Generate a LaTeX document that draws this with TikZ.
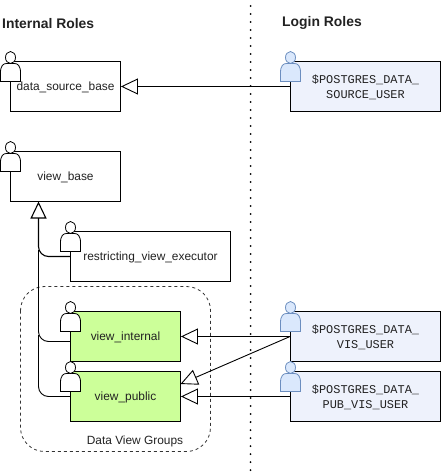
\documentclass[tikz,border=0pt]{standalone}
\usepackage{fontspec}
\setmainfont{Liberation Sans}
\newfontfamily\monof{Liberation Mono}
\usetikzlibrary{arrows.meta}
\definecolor{loginfill}{HTML}{EEF2FC}
\definecolor{viewfill}{HTML}{CCFF99}
\definecolor{actorblue}{HTML}{6C8EBF}
\definecolor{actorfill}{HTML}{DAE8FC}
\definecolor{ink}{HTML}{222222}
\tikzset{
  x=1pt,y=-1pt,
  role/.style={draw=black,line width=0.9pt,fill=white,minimum height=50pt,inner sep=0pt},
  wide/.style={role,minimum width=110pt},
  green/.style={wide,fill=viewfill},
  login/.style={role,fill=loginfill,minimum width=150pt},
  rolelabel/.style={text=ink,font=\fontsize{11.9}{14}\selectfont,inner sep=0pt,yshift=-1pt},
  loginlabel/.style={text=ink,align=center,font=\monof\fontsize{11.9}{14.6}\selectfont,inner sep=0pt,yshift=-1pt},
  title/.style={font=\bfseries\fontsize{13.9}{16}\selectfont,text=ink,inner sep=0pt},
  note/.style={font=\fontsize{11.9}{14}\selectfont,text=ink,inner sep=0pt},
  tri/.style={-{Triangle[open,fill=white,length=17pt,width=16pt]},line width=0.9pt},
  tribase/.style={-{Triangle[open,fill=white,length=17pt,width=16pt]},line width=1.1pt},
  actorw/.style={draw=black,fill=white,line width=0.8pt},
  actorb/.style={draw=actorblue,fill=actorfill,line width=0.8pt},
  pics/actor/.style={code={
    \path[#1] (-10,15) -- (-10,6) .. controls (-10,-1) and (-7,-3) .. (-4,-3) -- (4,-3)
      .. controls (7,-3) and (10,-1) .. (10,6) -- (10,15) -- cycle;
    \path[#1] (0,-9) ellipse [x radius=5,y radius=6];
  }}
}
\begin{document}
\begin{tikzpicture}
\useasboundingbox (0,0) rectangle (442,473);
\draw[line width=2pt,line cap=round,dash pattern=on 0pt off 8pt] (250.5,-2) -- (250.5,473);
\node[title,anchor=west] (tint) at (2,23.3) {Internal Roles};
\node[title,anchor=west] (tlog) at (282,23.3) {Login Roles};
\draw[line width=0.8pt,dash pattern=on 3pt off 3pt,rounded corners=24pt,draw=black!80] (20.5,286.5) rectangle (210.5,451.5);
\node[note] (dvg) at (135,441.5) {Data View Groups};
\node[wide] (dsb) at (65.5,86.5) {};
\node[wide] (vb) at (65.5,176.5) {};
\node[role,minimum width=160pt] (rve) at (150.5,256.5) {};
\node[green] (vi) at (125.5,336.5) {};
\node[green] (vp) at (125.5,396.5) {};
\node[login] (ls) at (365.5,86.5) {};
\node[login] (lv) at (365.5,336.5) {};
\node[login] (lp) at (365.5,396.5) {};
\coordinate (vbs) at (38.5,201.5);
\coordinate (vpne) at (180.5,384);
\coordinate (viw) at (70.5,341.5);
\draw[tribase,rounded corners=10pt] (rve.west) -- (38.5,256.5) -- (vbs);
\draw[line width=0.9pt,rounded corners=10pt] (viw) -- (38.5,341.5) -- (38.5,250);
\draw[line width=0.9pt,rounded corners=10pt] (vp.west) -- (38.5,396.5) -- (38.5,335);
\draw[tri] (ls.west) -- (dsb.east);
\draw[tri] (lv.west) -- (vi.east);
\draw[tri] (lv.west) -- (vpne);
\draw[tri] (lp.west) -- (vp.east);
\pic at (10.5,66.5) {actor=actorw};
\pic at (10.5,156.5) {actor=actorw};
\pic at (70.5,236.5) {actor=actorw};
\pic at (70.5,316.5) {actor=actorw};
\pic at (70.5,376.5) {actor=actorw};
\pic at (290.5,66.5) {actor=actorb};
\pic at (290.5,316.5) {actor=actorb};
\pic at (290.5,376.5) {actor=actorb};
\node[rolelabel] at (dsb.center) {data\_source\_base};
\node[rolelabel] at (vb.center) {view\_base};
\node[rolelabel] at (rve.center) {restricting\_view\_executor};
\node[rolelabel] at (vi.center) {view\_internal};
\node[rolelabel] at (vp.center) {view\_public};
\node[loginlabel] at (ls.center) {\$POSTGRES\_DATA\_\\SOURCE\_USER};
\node[loginlabel] at (lv.center) {\$POSTGRES\_DATA\_\\VIS\_USER};
\node[loginlabel] at (lp.center) {\$POSTGRES\_DATA\_\\PUB\_VIS\_USER};
\end{tikzpicture}
\end{document}
